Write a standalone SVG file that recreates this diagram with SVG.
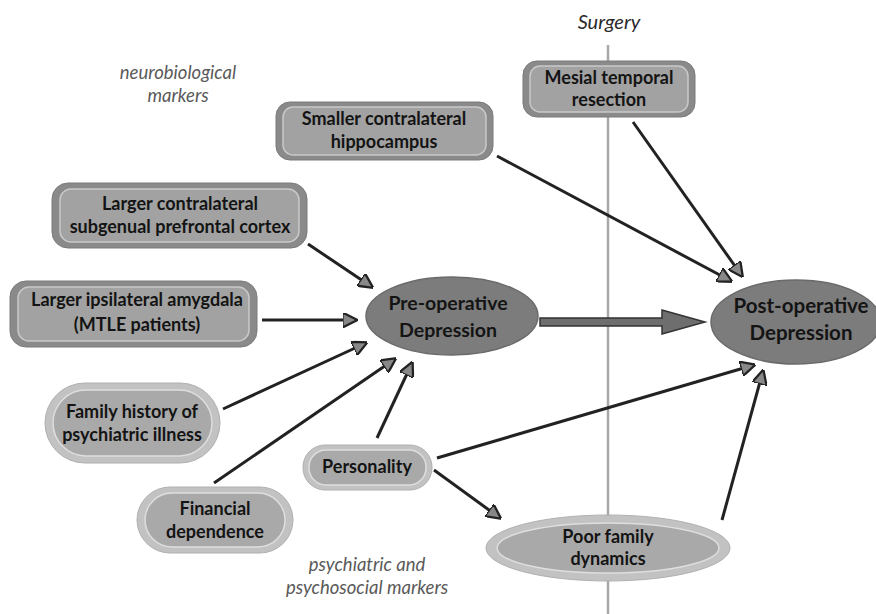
<svg xmlns="http://www.w3.org/2000/svg" width="876" height="614" viewBox="0 0 876 614">
<defs>
<style>
.lbl{font-family:Lato,"Liberation Sans",sans-serif;font-weight:bold;font-size:18px;fill:#141414;text-anchor:middle}
.cap{font-family:Lato,"Liberation Sans",sans-serif;font-style:italic;font-size:18.5px;fill:#5a5a5a;text-anchor:middle}
.boxo{fill:#8a8a8a;stroke:#7a7a7a;stroke-width:1}
.boxi{fill:#a2a2a2;stroke:#c9c9c9;stroke-width:1.5}
.dep{fill:#7c7c7c;stroke:#6a6a6a;stroke-width:1.5}
.pillo{fill:#c2c2c2;stroke:#b0b0b0;stroke-width:1}
.pilli{fill:#a9a9a9;stroke:#dedede;stroke-width:1.5}
.arr{stroke:#222;stroke-width:3;fill:none;marker-end:url(#ah)}
</style>
<marker id="ah" viewBox="0 0 10 10" refX="9" refY="5" markerWidth="5" markerHeight="5" orient="auto" markerUnits="strokeWidth">
<path d="M0,0 L10,5 L0,10 Z" fill="#888" stroke="#222" stroke-width="1.5"/>
</marker>
</defs>
<rect width="876" height="614" fill="#ffffff"/>

<g id="surgery-line">
<line x1="608" y1="45" x2="608" y2="614" stroke="#a8a8a8" stroke-width="2.5"/>
<text class="cap" x="609" y="29" style="fill:#2a2a2a;font-size:20px">Surgery</text>
</g>

<g id="captions">
<text class="cap" x="178" y="79">neurobiological</text>
<text class="cap" x="178" y="102">markers</text>
<text class="cap" x="367" y="571">psychiatric and</text>
<text class="cap" x="367" y="594">psychosocial markers</text>
</g>

<g id="connectors">
<line class="arr" x1="497" y1="156" x2="731" y2="281"/>
<line class="arr" x1="633" y1="122" x2="742" y2="276"/>
<line class="arr" x1="308" y1="244" x2="372" y2="287"/>
<line class="arr" x1="262" y1="320" x2="356" y2="320"/>
<line class="arr" x1="223" y1="409" x2="366" y2="343"/>
<line class="arr" x1="214" y1="483" x2="395" y2="359"/>
<line class="arr" x1="377" y1="438" x2="412" y2="363"/>
<line class="arr" x1="437" y1="458" x2="754" y2="365"/>
<line class="arr" x1="434" y1="470" x2="500" y2="518"/>
<line class="arr" x1="722" y1="520" x2="763" y2="371"/>
<g id="main-arrow">
<path d="M540,318 L662,318 L662,310 L705,322 L662,334 L662,326 L540,326 Z" fill="#6e6e6e" stroke="#333" stroke-width="1.5"/>
</g>
</g>

<g id="mesial">
<rect class="boxo" x="523" y="61" width="172" height="56" rx="14"/>
<rect class="boxi" x="530" y="66" width="158" height="46" rx="10"/>
<text class="lbl" x="609" y="84">Mesial temporal</text>
<text class="lbl" x="609" y="106">resection</text>
</g>

<g id="hippocampus">
<rect class="boxo" x="276" y="102" width="217" height="58" rx="14"/>
<rect class="boxi" x="283" y="107" width="203" height="48" rx="10"/>
<text class="lbl" x="384" y="125">Smaller contralateral</text>
<text class="lbl" x="384" y="148">hippocampus</text>
</g>

<g id="subgenual">
<rect class="boxo" x="52" y="183" width="255" height="65" rx="16"/>
<rect class="boxi" x="60" y="189" width="239" height="53" rx="11"/>
<text class="lbl" x="180" y="210">Larger contralateral</text>
<text class="lbl" x="180" y="233">subgenual prefrontal cortex</text>
</g>

<g id="amygdala">
<rect class="boxo" x="10" y="281" width="247" height="66" rx="16"/>
<rect class="boxi" x="18" y="287" width="231" height="54" rx="11"/>
<text class="lbl" x="137" y="306">Larger ipsilateral amygdala</text>
<text class="lbl" x="137" y="331">(MTLE patients)</text>
</g>

<g id="preop">
<ellipse class="dep" cx="452" cy="316" rx="86" ry="39"/>
<text class="lbl" x="448" y="310" style="font-size:19.5px">Pre-operative</text>
<text class="lbl" x="448" y="337" style="font-size:19.5px">Depression</text>
</g>

<g id="postop">
<ellipse class="dep" cx="796" cy="322" rx="85" ry="42"/>
<text class="lbl" x="801" y="313" style="font-size:20.5px">Post-operative</text>
<text class="lbl" x="801" y="340" style="font-size:20.5px">Depression</text>
</g>

<g id="family-history">
<rect class="pillo" x="45" y="383" width="175" height="80" rx="40"/>
<rect class="pilli" x="53" y="390" width="159" height="66" rx="33"/>
<text class="lbl" x="132" y="418">Family history of</text>
<text class="lbl" x="132" y="441">psychiatric illness</text>
</g>

<g id="financial">
<rect class="pillo" x="137" y="487" width="156" height="66" rx="33"/>
<rect class="pilli" x="145" y="493" width="140" height="54" rx="27"/>
<text class="lbl" x="215" y="515">Financial</text>
<text class="lbl" x="215" y="538">dependence</text>
</g>

<g id="personality">
<rect class="pillo" x="303" y="445" width="129" height="45" rx="22"/>
<rect class="pilli" x="309" y="450" width="117" height="35" rx="17"/>
<text class="lbl" x="367" y="473">Personality</text>
</g>

<g id="family-dynamics">
<ellipse class="pillo" cx="608" cy="548" rx="122" ry="33"/>
<ellipse class="pilli" cx="608" cy="548" rx="111" ry="25"/>
<text class="lbl" x="608" y="543">Poor family</text>
<text class="lbl" x="608" y="565">dynamics</text>
</g>
</svg>
